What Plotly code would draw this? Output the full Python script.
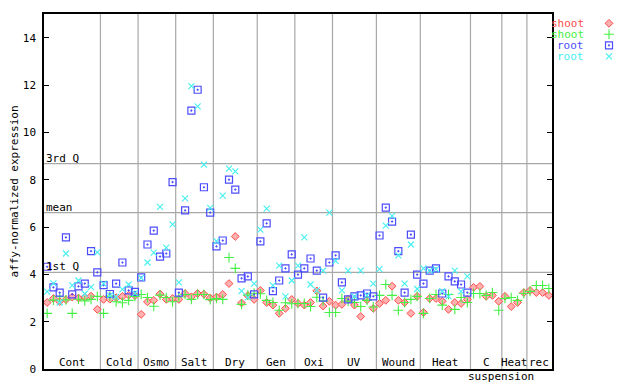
import plotly.graph_objects as go

# ---------------- data ----------------
groups = ["Cont", "Cold", "Osmo", "Salt", "Dry", "Gen", "Oxi", "UV", "Wound", "Heat", "C", "Heat", "rec"]
group_sizes = [9, 6, 6, 6, 7, 6, 6, 7, 7, 8, 5, 4, 4]
group_sublabels = {"C": "suspension"}

shoot_1 = [2.81, 2.98, 2.85, 2.93, 3.04, 3.00, 3.04, 3.08, 2.52,
           2.94, 2.95, 3.01, 3.07, 3.12, 3.10,
           2.31, 2.84, 2.90, 3.17, 2.94, 2.98,
           2.94, 3.19, 3.05, 3.19, 3.16, 3.00,
           3.04, 3.15, 3.61, 5.60, 2.79, 3.10, 2.94,
           3.32, 2.81, 2.70, 2.35, 2.56, 2.94,
           2.77, 2.70, 2.81, 3.30, 2.66, 2.86,
           2.70, 2.73, 2.95, 2.70, 2.22, 2.92, 2.56,
           2.77, 2.90, 3.50, 2.90, 2.81, 2.35, 3.07,
           2.39, 2.98, 2.98, 2.86, 2.52, 2.81, 2.77, 2.94,
           3.45, 3.49, 3.07, 3.11, 2.86,
           3.07, 2.64, 2.81, 3.23,
           3.32, 3.23, 3.23, 3.11]
shoot_2 = [2.35, 2.91, 3.05, 2.92, 2.35, 2.95, 2.88, 2.94, 3.07,
           2.35, 3.08, 2.84, 2.80, 2.90, 3.07,
           3.15, 3.02, 2.65, 3.12, 3.02, 2.84,
           3.04, 3.15, 2.94, 3.15, 3.15, 2.93,
           2.98, 2.94, 4.71, 4.25, 2.73, 3.12, 3.20,
           3.18, 2.90, 2.81, 2.48, 2.80, 2.76,
           2.77, 2.77, 2.64, 3.03, 2.87, 2.39,
           2.39, 2.98, 2.87, 2.81, 2.64, 2.90, 2.62,
           3.11, 3.57, 3.11, 2.48, 2.81, 2.94, 3.07,
           2.35, 2.98, 3.15, 2.70, 3.15, 2.52, 3.02, 2.81,
           3.19, 3.19, 3.11, 3.23, 2.48,
           2.98, 3.02, 2.90, 3.19,
           3.28, 3.53, 3.53, 3.40]
root_1 = [4.32, 3.45, 3.23, 5.56, 3.15, 3.49, 3.61, 4.98, 4.08,
          3.54, 3.17, 3.61, 4.50, 3.32, 3.26,
          3.87, 5.26, 5.85, 4.75, 4.88, 7.90,
          3.23, 6.70, 10.92, 11.80, 7.68, 6.61,
          5.18, 5.43, 8.00, 7.58, 3.83, 3.91, 3.15,
          5.39, 6.15, 3.29, 3.74, 4.25, 4.84,
          3.99, 4.25, 4.67, 4.16, 3.02, 4.50,
          4.80, 3.66, 2.94, 3.07, 3.11, 3.19, 3.07,
          5.64, 6.82, 6.23, 4.98, 3.23, 5.68, 3.99,
          3.61, 4.16, 4.25, 3.19, 3.91, 3.70, 3.57, 3.23,
          None, None, None, None, None,
          None, None, None, None,
          None, None, None, None]
root_2 = [3.27, 3.62, 2.81, 4.88, 3.53, 3.74, 3.18, 3.46, 4.93,
          3.61, 3.10, 3.05, 3.36, 3.57, 3.21,
          3.85, 4.50, 4.92, 6.85, 5.13, 6.11,
          3.66, 7.21, 11.95, 11.10, 8.64, 6.81,
          5.40, 7.33, 8.47, 8.35, 3.29, 3.03, 3.61,
          5.89, 6.78, 3.53, 4.37, 3.07, 3.74,
          4.37, 5.56, 3.57, 3.32, 4.16, 6.61,
          4.57, 3.32, 4.16, 3.07, 4.16, 3.11, 3.61,
          4.22, 6.06, 6.47, 4.80, 3.61, 5.26, 3.38,
          4.25, 4.16, 4.22, 3.29, 3.07, 4.16, 3.28, 3.91,
          None, None, None, None, None,
          None, None, None, None,
          None, None, None, None]

ref_names = ["1st Q", "mean", "3rd Q"]
ref_values = [4.08, 6.61, 8.68]

y_ticks = [0, 2, 4, 6, 8, 10, 12, 14]
series_names = ["shoot", "shoot", "root", "root"]

# ---------------- styling ----------------
FONT = "DejaVu Sans Mono"
BODY = 8                      # default page margin of the html body
W, H = 640 - BODY, 384 - BODY
ML, MR, MT, MB = 44 - BODY, 0, 14 - BODY, 15
PLOT_W = 508
dom = PLOT_W / (W - ML - MR)

styles = [
    dict(symbol="diamond", size=6, color="#ffb0b0", line=dict(color="#ff4c4c", width=1)),
    dict(symbol="cross-thin-open", size=7, color="#44f044", line=dict(color="#44f044", width=1.1)),
    dict(symbol="square-open-dot", size=7, color="#4c4cff", line=dict(color="#4c4cff", width=1.2)),
    dict(symbol="x-thin-open", size=6, color="#44f0f0", line=dict(color="#44f0f0", width=1.1)),
]
text_colors = ["#ff4c4c", "#44f044", "#4c4cff", "#44f0f0"]

n = sum(group_sizes)
xs = list(range(n))

fig = go.Figure()
for vals, st, nm in zip([shoot_1, shoot_2, root_1, root_2], styles, series_names):
    fig.add_trace(go.Scatter(x=xs, y=vals, mode="markers", marker=st, name=nm,
                             showlegend=False, cliponaxis=False, hoverinfo="skip"))

# legend markers on an auxiliary axis (pixel-like units in the right margin area)
leg_rows = [9.3, 20.3, 31.3, 42.3]
for st, ly in zip(styles, leg_rows):
    fig.add_trace(go.Scatter(x=[57], y=[ly], xaxis="x2", yaxis="y2", mode="markers",
                             marker=st, showlegend=False, hoverinfo="skip", cliponaxis=False))

shapes = []
# group separators
pos = 0
for sz in group_sizes[:-1]:
    pos += sz
    shapes.append(dict(type="line", xref="x", yref="paper", x0=pos - 0.5, x1=pos - 0.5,
                       y0=0, y1=1, line=dict(color="#a8a8a8", width=1.2), layer="below"))
# reference lines
for v in ref_values:
    shapes.append(dict(type="line", xref="paper", yref="y", x0=0, x1=dom, y0=v, y1=v,
                       line=dict(color="#a8a8a8", width=1.2), layer="below"))

annotations = []
for nm, v in zip(ref_names, ref_values):
    annotations.append(dict(x=-0.5, y=v, xref="x", yref="y", text=nm, showarrow=False,
                            xanchor="left", yanchor="bottom", yshift=-3,
                            font=dict(family=FONT, size=11, color="black")))
pos = 0
for g, sz in zip(groups, group_sizes):
    c = pos + sz / 2 - 0.5
    annotations.append(dict(x=c, y=0, xref="x", yref="y", text=g, showarrow=False,
                            xanchor="center", yanchor="bottom", yshift=-2,
                            font=dict(family=FONT, size=11, color="black")))
    if g in group_sublabels:
        annotations.append(dict(x=c + 2.4, y=0, xref="x", yref="y", text=group_sublabels[g],
                                showarrow=False, xanchor="center", yanchor="top", yshift=1,
                                font=dict(family=FONT, size=11, color="black")))
    pos += sz
for nm, col, ly in zip(series_names, text_colors, leg_rows):
    annotations.append(dict(x=33, y=ly, xref="x2", yref="y2", text=nm, showarrow=False,
                            xanchor="right", yanchor="middle", height=11, borderpad=0,
                            font=dict(family=FONT, size=11, color=col)))

fig.update_layout(
    width=W, height=H,
    margin=dict(l=ML, r=MR, t=MT, b=MB, pad=0),
    paper_bgcolor="white", plot_bgcolor="white",
    showlegend=False,
    shapes=shapes, annotations=annotations,
    xaxis=dict(domain=[0, dom], range=[-0.5, n - 0.5], showticklabels=False, ticks="",
               showgrid=False, zeroline=False, showline=True, mirror=True,
               linecolor="black", linewidth=1.5),
    yaxis=dict(range=[0, 15], tickvals=y_ticks, ticks="inside", ticklen=5, tickwidth=1,
               tickcolor="black", showgrid=False, zeroline=False, showline=True,
               mirror="ticks", linecolor="black", linewidth=1.5, ticklabelstandoff=4,
               tickfont=dict(family=FONT, size=11, color="black"),
               title=dict(text="affy-normalized expression", standoff=7,
                          font=dict(family=FONT, size=11, color="black")),
               automargin=False),
    xaxis2=dict(domain=[dom, 1], range=[0, W - ML - PLOT_W], visible=False, anchor="y2",
                fixedrange=True),
    yaxis2=dict(domain=[0, 1], range=[H - MT - MB, 0], visible=False, anchor="x2",
                fixedrange=True),
)

fig.write_html("out.html", config={"displayModeBar": False})
